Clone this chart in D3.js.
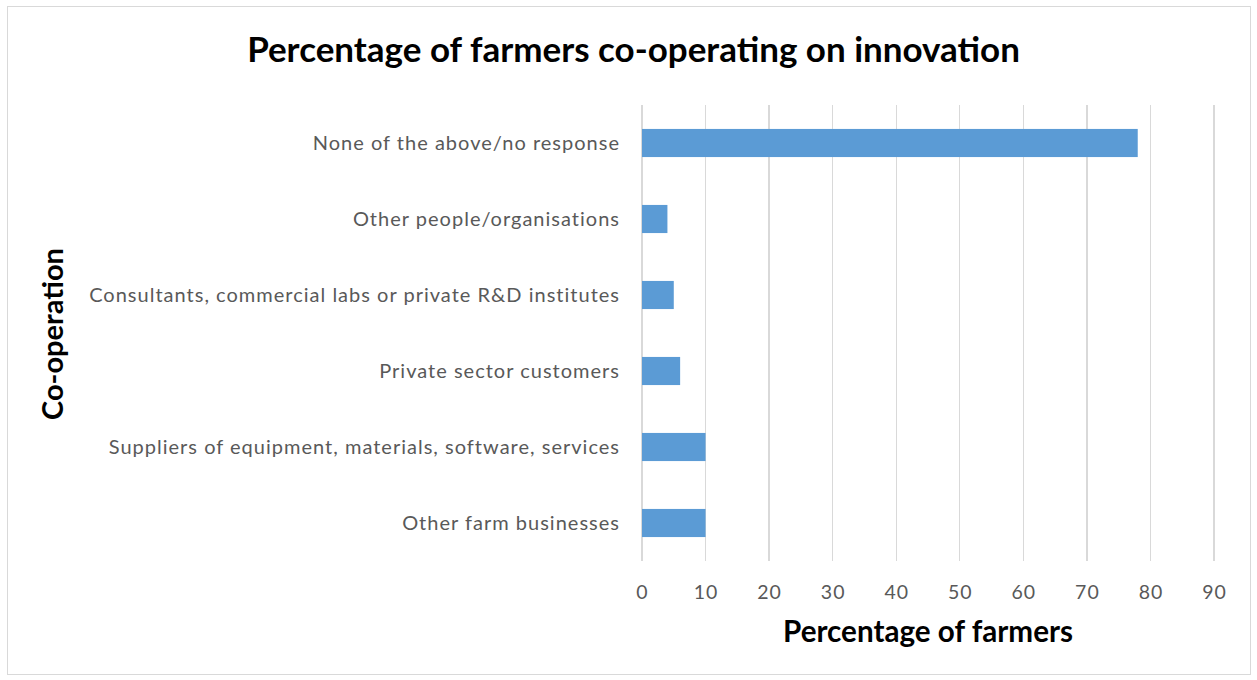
<!DOCTYPE html>
<html>
<head>
<meta charset="utf-8">
<script src="https://cdn.jsdelivr.net/npm/d3@7"></script>
<style>
  html, body { margin: 0; padding: 0; background: #fff; }
  svg { display: block; font-family: Lato, "Open Sans", sans-serif; }
</style>
</head>
<body>
<svg id="chart" width="1257" height="680"></svg>
<script>
// Co-operation categories, top to bottom
const categories = [
  "None of the above/no response",
  "Other people/organisations",
  "Consultants, commercial labs or private R&D institutes",
  "Private sector customers",
  "Suppliers of equipment, materials, software, services",
  "Other farm businesses"
];
// Percentage of farmers per category
const values = [78, 4, 5, 6, 10, 10];
// Tick values along the percentage axis
const xTicks = [0, 10, 20, 30, 40, 50, 60, 70, 80, 90];

const titleText = "Percentage of farmers co-operating on innovation";
const xTitleText = "Percentage of farmers";
const yTitleText = "Co-operation";

const svg = d3.select("#chart");

// Outer chart frame
svg.append("rect")
  .attr("x", 7.5).attr("y", 6.5)
  .attr("width", 1243).attr("height", 668)
  .attr("fill", "#fff").attr("stroke", "#d9d9d9").attr("stroke-width", 1);

const plot = { left: 642, right: 1214, top: 105, bottom: 561 };

const x = d3.scaleLinear().domain([0, 90]).range([plot.left, plot.right]);
const y = d3.scaleBand().domain(categories)
  .range([plot.top, plot.bottom])
  .paddingInner(0.63).paddingOuter(0.315);

// Shrink or grow a text node's font size so it spans a given width
function fitWidth(sel, target) {
  const node = sel.node();
  const fs = parseFloat(sel.attr("font-size"));
  const w = node.getComputedTextLength();
  sel.attr("font-size", (fs * target / w).toFixed(2));
}

// Vertical gridlines
svg.append("g")
  .selectAll("line")
  .data(xTicks)
  .join("line")
  .attr("x1", d => x(d)).attr("x2", d => x(d))
  .attr("y1", plot.top).attr("y2", plot.bottom)
  .attr("stroke", "#d9d9d9").attr("stroke-width", 1.3)
  .attr("shape-rendering", "crispEdges");

// Bars
svg.append("g")
  .selectAll("rect")
  .data(values)
  .join("rect")
  .attr("x", x(0))
  .attr("y", (d, i) => y(categories[i]))
  .attr("width", d => x(d) - x(0))
  .attr("height", y.bandwidth())
  .attr("fill", "#5b9bd5");

// X axis tick labels
const xAxis = d3.axisBottom(x).tickValues(xTicks).tickSize(0).tickPadding(0);
const gx = svg.append("g")
  .attr("transform", `translate(0, ${plot.bottom + 38})`)
  .call(xAxis);
gx.select(".domain").remove();
gx.selectAll("text")
  .attr("fill", "#595959")
  .attr("font-size", 19.5)
  .attr("font-family", "Lato, 'Open Sans', sans-serif")
  .attr("letter-spacing", 1)
  .attr("dy", 0);

// Y axis category labels
const yAxis = d3.axisLeft(y).tickSize(0).tickPadding(0);
const gy = svg.append("g")
  .attr("transform", `translate(${plot.left - 23}, 0)`)
  .call(yAxis);
gy.select(".domain").remove();
const catLabels = gy.selectAll("text")
  .attr("fill", "#595959")
  .attr("font-size", 20)
  .attr("font-family", "Lato, 'Open Sans', sans-serif")
  .attr("dy", "0.35em");

// Spread the category labels so the longest one spans the label column
const longest = catLabels.nodes().reduce((a, n) =>
  n.getComputedTextLength() > a.getComputedTextLength() ? n : a);
const spacing = (531 - longest.getComputedTextLength()) / longest.textContent.length;
catLabels.attr("letter-spacing", spacing.toFixed(2)).attr("dx", spacing.toFixed(2));

// Chart title
const title = svg.append("text")
  .attr("x", 633.5).attr("y", 62)
  .attr("text-anchor", "middle")
  .attr("font-weight", "bold")
  .attr("font-size", 31)
  .attr("fill", "#000")
  .text(titleText);
fitWidth(title, 773);

// Axis titles
const xTitle = svg.append("text")
  .attr("x", 928).attr("y", 642)
  .attr("text-anchor", "middle")
  .attr("font-weight", "bold")
  .attr("font-size", 25)
  .attr("fill", "#000")
  .text(xTitleText);
fitWidth(xTitle, 290);

const yTitle = svg.append("text")
  .attr("transform", "translate(63, 334) rotate(-90)")
  .attr("text-anchor", "middle")
  .attr("font-weight", "bold")
  .attr("font-size", 25)
  .attr("fill", "#000")
  .text(yTitleText);
fitWidth(yTitle, 172);
</script>
</body>
</html>
